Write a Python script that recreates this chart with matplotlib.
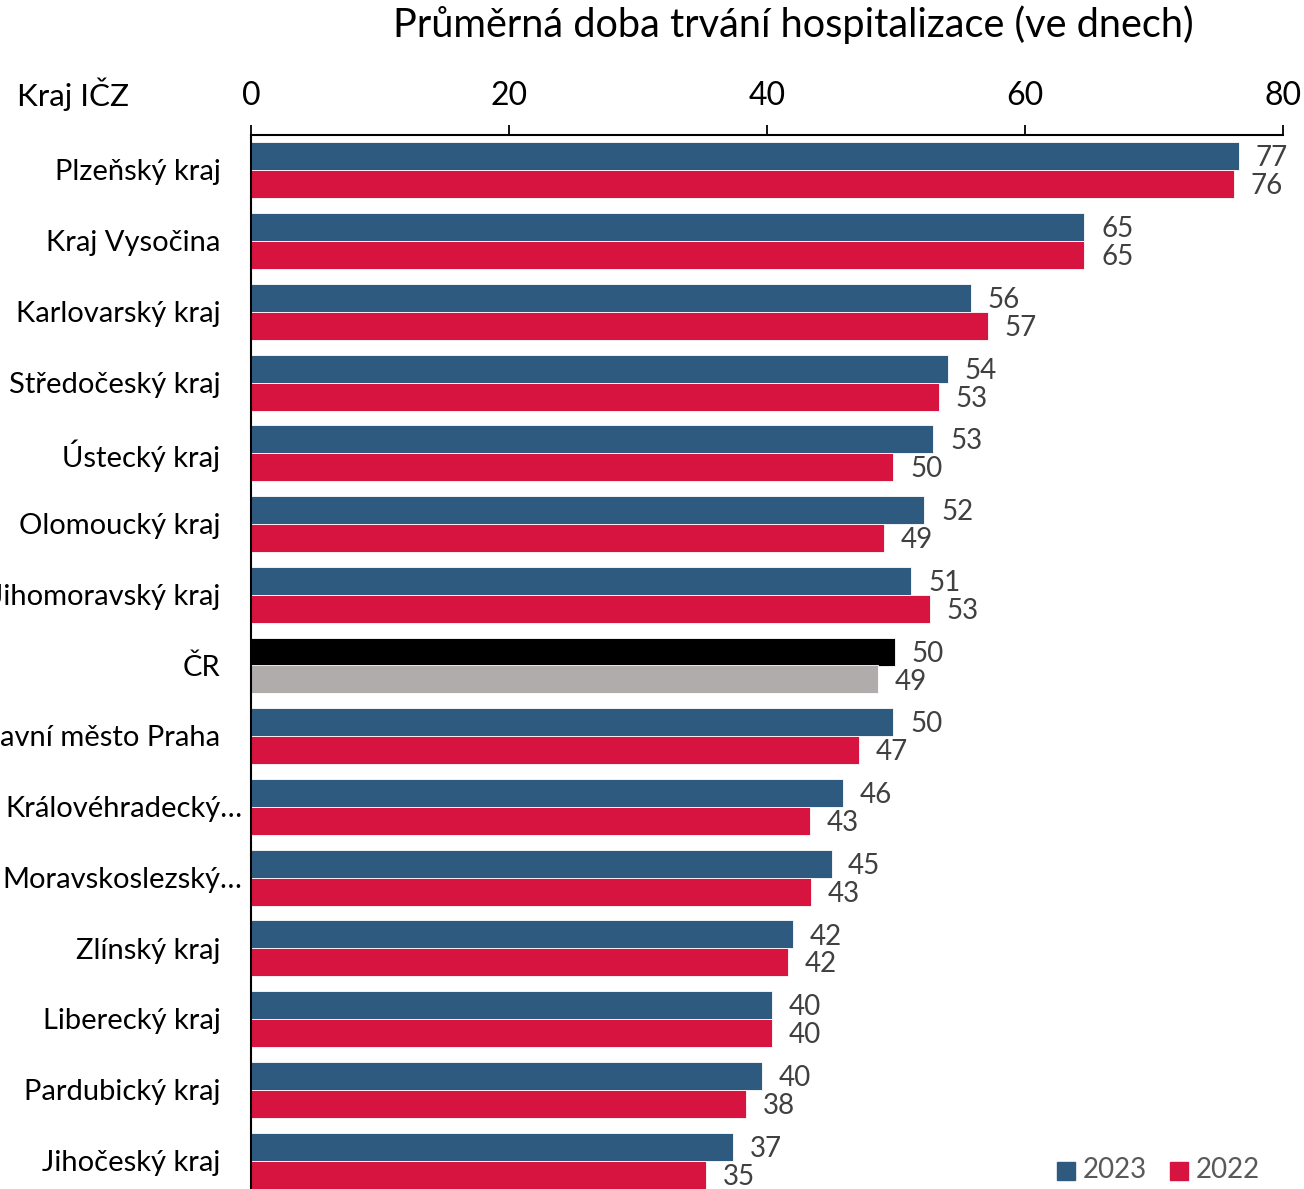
import matplotlib.pyplot as plt
import numpy as np

plt.rcParams['font.family'] = ['Lato', 'DejaVu Sans']

# 数据
kraje = ['Plzeňský kraj', 'Kraj Vysočina', 'Karlovarský kraj', 'Středočeský kraj',
         'Ústecký kraj', 'Olomoucký kraj', 'Jihomoravský kraj', 'ČR',
         'Hlavní město Praha', 'Královéhradecký…', 'Moravskoslezský…',
         'Zlínský kraj', 'Liberecký kraj', 'Pardubický kraj', 'Jihočeský kraj']
v2023 = [76.6, 64.6, 55.8, 54.0, 52.9, 52.2, 51.2, 49.9, 49.8, 45.9, 45.0, 42.0, 40.4, 39.6, 37.4]
v2022 = [76.2, 64.6, 57.1, 53.3, 49.8, 49.1, 52.6, 48.6, 47.1, 43.3, 43.4, 41.6, 40.4, 38.4, 35.3]
xticks = [0, 20, 40, 60, 80]

c2023 = '#2E5A80'
c2022 = '#D7143F'

fig = plt.figure(figsize=(13.04, 11.89), dpi=100)
ax = fig.add_axes([251 / 1304, -7 / 1189, 1032 / 1304, 1061 / 1189])

y = np.arange(len(kraje))
h = 0.395
col23 = ['black' if k == 'ČR' else c2023 for k in kraje]
col22 = ['#B0ACAC' if k == 'ČR' else c2022 for k in kraje]
ax.barh(y - h / 2, v2023, height=h, color=col23, edgecolor='white', linewidth=0.6)
ax.barh(y + h / 2, v2022, height=h, color=col22, edgecolor='white', linewidth=0.6)

# 数值标签
for i in range(len(kraje)):
    ax.annotate('%.0f' % v2023[i], (v2023[i], y[i] - h / 2), xytext=(12, -1.5),
                textcoords='offset points', va='center', ha='left', fontsize=20, color='#404040')
    ax.annotate('%.0f' % v2022[i], (v2022[i], y[i] + h / 2), xytext=(12, -1.5),
                textcoords='offset points', va='center', ha='left', fontsize=20, color='#404040')

# 类别标签
for i, k in enumerate(kraje):
    off = -6 if k.endswith('…') else -22
    ax.annotate(k, (0, y[i]), xytext=(off, -1.5), textcoords='offset points',
                va='center', ha='right', fontsize=21, color='black', annotation_clip=False)

ax.set_xlim(0, 80)
ax.set_ylim(14.5, -0.5)
ax.set_yticks([])
ax.set_xticks(xticks)
ax.xaxis.tick_top()
ax.tick_params(axis='x', direction='out', length=7, width=1.3, labelsize=23, pad=10.5)
for s in ['right', 'bottom']:
    ax.spines[s].set_visible(False)
ax.spines['top'].set_linewidth(1.5)
ax.spines['left'].set_linewidth(1.5)

fig.text(793 / 1304, 1 - 25 / 1189, 'Průměrná doba trvání hospitalizace (ve dnech)',
         ha='center', va='center', fontsize=28.6)
fig.text(17 / 1304, 1 - 94 / 1189, 'Kraj IČZ', ha='left', va='center', fontsize=22.6)

# 图例
fig.patches.append(plt.Rectangle((1057 / 1304, 1 - 1180 / 1189), 18 / 1304, 18 / 1189,
                                 transform=fig.transFigure, color=c2023))
fig.text(1083 / 1304, 1 - 1170 / 1189, '2023', ha='left', va='center', fontsize=20, color='#595959')
fig.patches.append(plt.Rectangle((1170 / 1304, 1 - 1180 / 1189), 18 / 1304, 18 / 1189,
                                 transform=fig.transFigure, color=c2022))
fig.text(1196 / 1304, 1 - 1170 / 1189, '2022', ha='left', va='center', fontsize=20, color='#595959')

plt.savefig('out.png', dpi=100)
